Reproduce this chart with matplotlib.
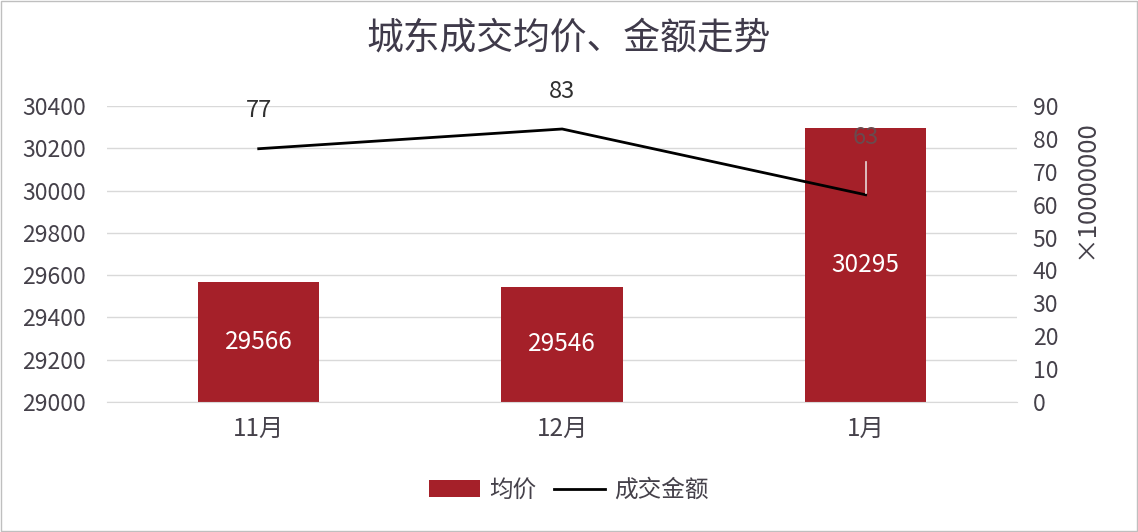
import matplotlib.pyplot as plt
import numpy as np

plt.rcParams['font.family'] = ['Noto Sans CJK SC', 'DejaVu Sans']

# data
months = ['11月', '12月', '1月']
avg_price = [29566, 29546, 30295]
amount = [77, 83, 63]  # x 10000000
left_ticks = list(range(29000, 30401, 200))
right_ticks = list(range(0, 91, 10))

bar_col = '#A52029'
txt_col = '#45414A'
grid_col = '#D9D9D9'

fig = plt.figure(figsize=(11.38, 5.32), dpi=100)
ax = fig.add_axes([0.094, 0.2444, 0.800, 0.5564])
ax2 = ax.twinx()

x = np.arange(len(months))
bars = ax.bar(x, [v - 29000 for v in avg_price], bottom=29000, width=0.4,
              color=bar_col, label='均价', zorder=2)
ax.set_xlim(-0.5, 2.5)
ax.set_ylim(29000, 30400)
ax.set_yticks(left_ticks)
ax.set_xticks(x)
ax.set_xticklabels(months)
ax.grid(axis='y', color=grid_col, lw=1, zorder=0)
for i, v in enumerate(avg_price):
    ax.text(i, (29000 + v) / 2, str(v), color='white', fontsize=17.5,
            ha='center', va='center', zorder=3)

line, = ax2.plot(x, amount, color='black', lw=2, label='成交金额', zorder=4)
ax2.set_ylim(0, 90)
ax2.set_yticks(right_ticks)
ax2.set_ylabel('×10000000', color=txt_col, fontsize=18.5, labelpad=12)
ax2.yaxis.set_label_coords(1.06, 0.72)

# line labels
ax2.text(0, 77 + 11.5, '77', color='#303030', fontsize=17, ha='center', va='center')
ax2.text(1, 83 + 11.5, '83', color='#303030', fontsize=17, ha='center', va='center')
ax2.text(2, 63 + 17.5, '63', color='#6A4A4E', fontsize=17, ha='center', va='center', zorder=5)
ax2.plot([2, 2], [63.5, 73], color='#E8D8D8', lw=1.2, zorder=5)

for a in (ax, ax2):
    for s in a.spines.values():
        s.set_visible(False)
    a.tick_params(length=0, labelsize=16.5, labelcolor=txt_col)
ax.spines['bottom'].set_visible(True)
ax.spines['bottom'].set_color(grid_col)
ax.tick_params(axis='x', pad=10, labelsize=17.5)
ax.tick_params(axis='y', pad=15)
ax2.tick_params(axis='y', pad=11)

fig.suptitle('城东成交均价、金额走势', fontsize=26.5, color='#3F3A4A', y=0.965)

fig.legend(handles=[bars, line], labels=['均价', '成交金额'], loc='center',
           bbox_to_anchor=(0.5, 0.078), ncol=2, frameon=False, fontsize=17,
           labelcolor=txt_col, handlelength=2.15, handleheight=0.7,
           columnspacing=0.75, handletextpad=0.4)

# thin frame around figure
fig.patches.append(plt.Rectangle((0.001, 0.002), 0.998, 0.996, transform=fig.transFigure,
                                 fill=False, edgecolor='#BFBFBF', lw=1))

fig.savefig('out.png', dpi=100)
